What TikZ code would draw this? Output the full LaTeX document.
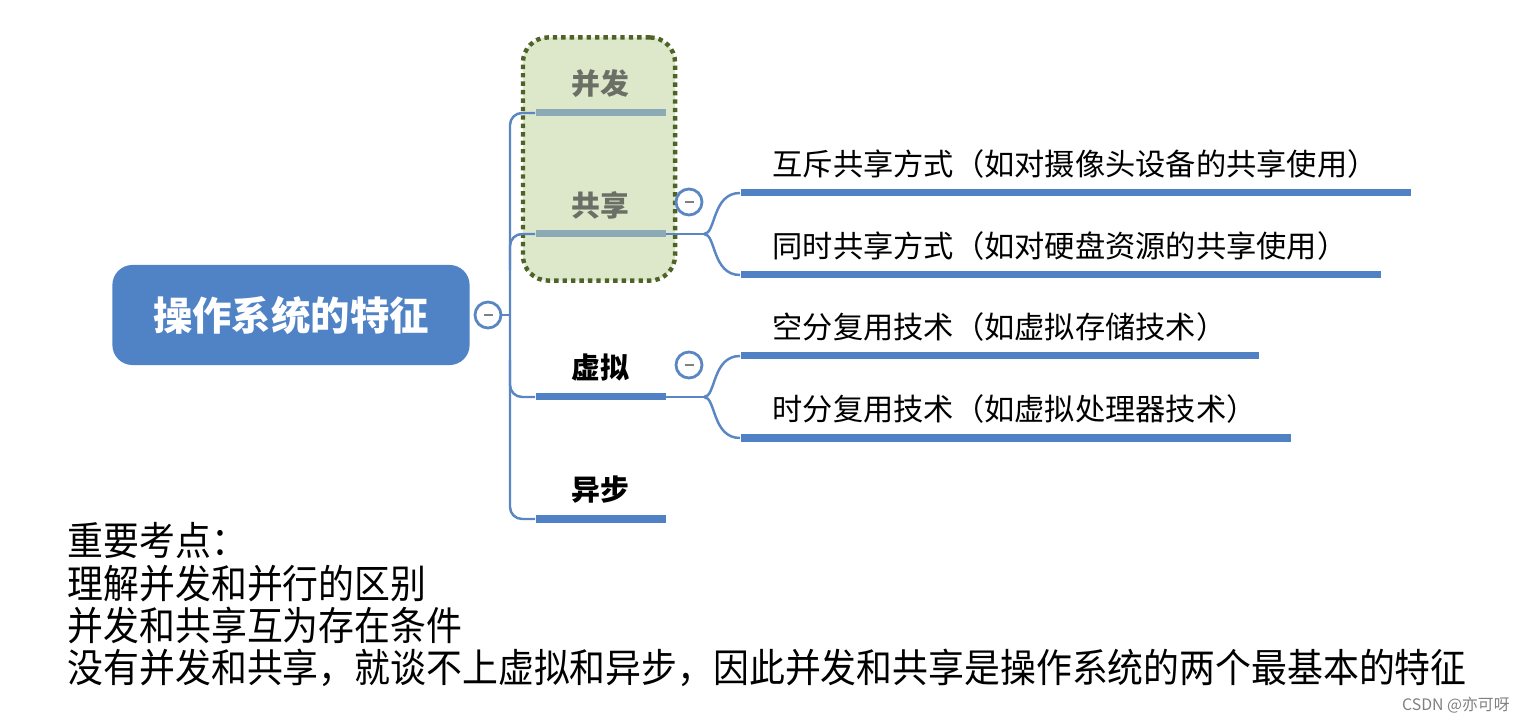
\documentclass[tikz,border=0pt]{standalone}
\usepackage{fontspec}
\newfontfamily\cjk{Noto Sans CJK SC}
\usetikzlibrary{positioning}
\definecolor{rootblue}{HTML}{5083C6}
\definecolor{barblue}{HTML}{4F81C4}
\definecolor{linkblue}{HTML}{5B86C4}
\definecolor{fadebar}{HTML}{8CA9B6}
\definecolor{boxgreen}{HTML}{DDE8CA}
\definecolor{dotgreen}{HTML}{4F6228}
\definecolor{fadetext}{HTML}{6B7066}
\tikzset{
  topic/.style={font=\cjk\bfseries\fontsize{8.2}{10}\selectfont, inner sep=0pt},
  leaf/.style={font=\cjk\fontsize{8.6}{10}\selectfont, inner sep=0pt, anchor=west},
  bar/.style={fill=barblue, inner sep=0pt, minimum height=0.07cm, anchor=west},
  branch/.style={draw=linkblue, line width=0.7pt},
  fold/.style={circle, draw=linkblue, fill=white, line width=0.8pt,
    minimum size=0.26cm, inner sep=0pt}
}
\newcommand{\minus}{{\color{gray}\rule{0.09cm}{0.8pt}}}
\begin{document}
\begin{tikzpicture}[x=0.01cm,y=-0.01cm]
  \useasboundingbox (0,0) rectangle (1534,722);

  % highlight box
  \node[
  draw=dotgreen,
  fill=boxgreen,
  line width=1.25pt,
  dash pattern=on 1.25pt off 1.15pt,
  rounded corners=0.25cm,
  minimum width=1.52cm,
  minimum height=2.43cm] (focus) at (599,159) {};

  % root
  \node[
  rectangle,
  fill=rootblue,
  rounded corners=0.2cm,
  minimum width=3.57cm,
  minimum height=1.0cm,
  text=white,
  font=\cjk\bfseries\fontsize{11.2}{13}\selectfont] (root) at (291,315) {操作系统的特征};
  \node[fold] (rootfold) at (488,315) {\minus};

  % topics
  \node[topic, text=fadetext] (binfa) at (600,84) {并发};
  \node[bar, fill=fadebar, minimum width=1.3cm] (bfbar) at (535,113) {};
  \node[topic, text=fadetext] (gongxiang) at (600,205) {共享};
  \node[bar, fill=fadebar, minimum width=1.3cm] (gxbar) at (535,234) {};
  \node[topic] (xuni) at (600,368) {虚拟};
  \node[bar, minimum width=1.3cm] (xnbar) at (535,397) {};
  \node[topic] (yibu) at (600,490) {异步};
  \node[bar, minimum width=1.3cm] (ybbar) at (535,519) {};

  \coordinate (trunk) at (510,315);
  \draw[branch] (rootfold.east) -- (trunk);
  \draw[branch, rounded corners=0.12cm] (bfbar.west) -| (trunk) |- (ybbar.west);
  \draw[branch, rounded corners=0.12cm] (510,270) |- (gxbar.west);
  \draw[branch, rounded corners=0.12cm] (510,360) |- (xnbar.west);

  % leaves of sharing
  \node[leaf] (huchi) at (772,164) {互斥共享方式（如对摄像头设备的共享使用）};
  \node[bar, minimum width=6.7cm] (hcbar) at (740,193) {};
  \node[leaf] (tongshi) at (772,246) {同时共享方式（如对硬盘资源的共享使用）};
  \node[bar, minimum width=6.4cm] (tsbar) at (740,275) {};
  \coordinate (gxfork) at (704,234);
  \draw[branch] (gxbar.east) -- (gxfork);
  \draw[branch] (gxfork) .. controls (716,234) and (712,193) .. (hcbar.west);
  \draw[branch] (gxfork) .. controls (716,234) and (712,275) .. (tsbar.west);
  \node[fold] (gxfold) at (689,202) {\minus};

  % leaves of virtualisation
  \node[leaf] (kongfen) at (772,327) {空分复用技术（如虚拟存储技术）};
  \node[bar, minimum width=5.18cm] (kfbar) at (740,356) {};
  \node[leaf] (shifen) at (772,409) {时分复用技术（如虚拟处理器技术）};
  \node[bar, minimum width=5.5cm] (sfbar) at (740,438) {};
  \coordinate (xnfork) at (704,397);
  \draw[branch] (xnbar.east) -- (xnfork);
  \draw[branch] (xnfork) .. controls (716,397) and (712,356) .. (kfbar.west);
  \draw[branch] (xnfork) .. controls (716,397) and (712,438) .. (sfbar.west);
  \node[fold] (xnfold) at (689,365) {\minus};

  % notes
  \node[
  anchor=north west,
  align=left,
  inner sep=0pt,
  yscale=1.1,
  transform shape,
  font=\cjk\fontsize{10.2}{10.9}\selectfont] (notes) at (67,522)
  {重要考点：\\
   理解并发和并行的区别\\
   并发和共享互为存在条件\\
   没有并发和共享，就谈不上虚拟和异步，因此并发和共享是操作系统的两个最基本的特征};

  \node[anchor=east, text=gray, font=\cjk\fontsize{4.5}{5}\selectfont] (mark) at (1522,705) {CSDN @亦可呀};
\end{tikzpicture}
\end{document}
